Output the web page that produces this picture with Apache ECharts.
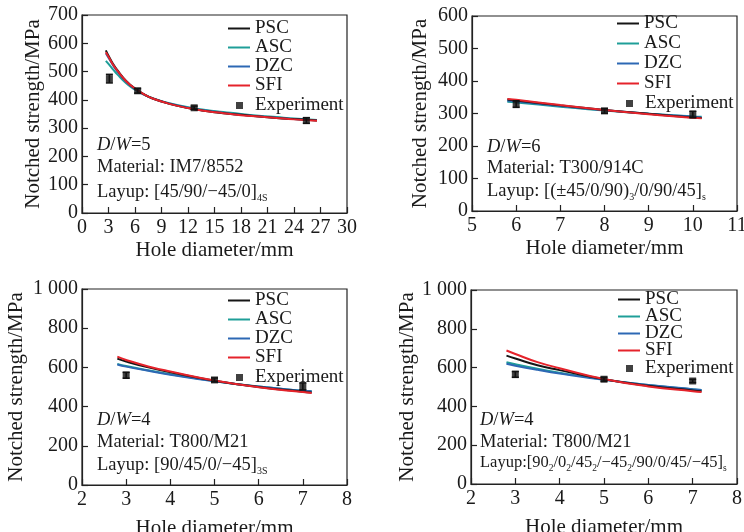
<!DOCTYPE html>
<html><head><meta charset="utf-8">
<script src="https://cdn.jsdelivr.net/npm/echarts@6/dist/echarts.min.js"></script>
<style>html,body{margin:0;padding:0;background:#fff}#c{width:744px;height:532px}</style>
</head><body><div id="c"></div>
<script>
// ---------- DATA ----------
const seriesNames = ['PSC','ASC','DZC','SFI'];
// Panel 1: IM7/8552
const x1 = [2.7, 3, 3.5, 4, 5, 6, 7, 8, 10, 12, 14, 16, 18, 20, 22, 24, 26.6];
const psc1 = [575, 556, 528, 505, 467, 440, 420, 405, 385, 371, 361, 353, 347, 341, 336, 332, 327];
const asc1 = [538, 527, 508, 490, 459, 436, 419, 406, 387, 374, 364, 357, 350, 344, 339, 334, 329];
const dzc1 = [565, 549, 523, 501, 464, 438, 419, 405, 386, 372, 362, 354, 347, 342, 337, 332, 328];
const sfi1 = [568, 552, 525, 503, 466, 440, 420, 405, 385, 371, 361, 353, 346, 341, 336, 331, 326];
const expX1 = [3.1, 6.3, 12.7, 25.4];
const expY1 = [475, 432, 372, 327];
const expE1 = [15, 8, 6, 10];
// Panel 2: T300/914C
const x2 = [5.8, 6, 7, 8, 9, 10, 10.2];
const psc2 = [343, 340, 325, 311, 299, 288, 286];
const asc2 = [336, 334, 321, 309, 299, 291, 290];
const dzc2 = [339, 337, 323, 310, 299, 290, 288];
const sfi2 = [345, 342, 326, 311, 298, 287, 285];
const expX2 = [6, 8, 10];
const expY2 = [329, 308, 297];
const expE2 = [10, 7, 10];
// Panel 3: T800/M21 [90/45/0/-45]3S
const x3 = [2.8, 3, 3.5, 4, 5, 6, 7, 7.2];
const psc3 = [645, 630, 600, 575, 532, 500, 476, 472];
const asc3 = [618, 607, 585, 565, 530, 502, 481, 478];
const dzc3 = [615, 604, 583, 563, 529, 502, 481, 478];
const sfi3 = [655, 638, 605, 579, 533, 499, 474, 470];
const expX3 = [3, 5, 7];
const expY3 = [560, 536, 503];
const expE3 = [15, 10, 18];
// Panel 4: T800/M21 dispersed
const x4 = [2.8, 3, 3.5, 4, 5, 6, 7, 7.2];
const psc4 = [662, 647, 612, 587, 540, 506, 482, 478];
const asc4 = [628, 617, 594, 574, 538, 510, 488, 484];
const dzc4 = [620, 610, 589, 570, 537, 510, 489, 485];
const sfi4 = [688, 670, 628, 597, 541, 503, 478, 474];
const expX4 = [3, 5, 7];
const expY4 = [565, 540, 531];
const expE4 = [15, 10, 8];
// axis ranges / ticks
const xAxes = [{min:0,max:30,interval:3},{min:5,max:11,interval:1},{min:2,max:8,interval:1},{min:2,max:8,interval:1}];
const yAxes = [{min:0,max:700,interval:100},{min:0,max:600,interval:100},{min:0,max:1000,interval:200},{min:0,max:1000,interval:200}];
const xTitle = 'Hole diameter/mm';
const yTitle = 'Notched strength/MPa';

// ---------- STYLE / LAYOUT ----------
const FONT = 'Liberation Serif';
const colors = {PSC:'#151515', ASC:'#1f9e98', DZC:'#2d68b4', SFI:'#e5232b'};
const grids = [
  {left:82, top:15, width:265, height:198},
  {left:472, top:16, width:265, height:195},
  {left:82, top:289, width:265, height:196},
  {left:471, top:290, width:266, height:194}
];
const panels = [
  {x:x1, PSC:psc1, ASC:asc1, DZC:dzc1, SFI:sfi1, ex:expX1, ey:expY1, ee:expE1},
  {x:x2, PSC:psc2, ASC:asc2, DZC:dzc2, SFI:sfi2, ex:expX2, ey:expY2, ee:expE2},
  {x:x3, PSC:psc3, ASC:asc3, DZC:dzc3, SFI:sfi3, ex:expX3, ey:expY3, ee:expE3},
  {x:x4, PSC:psc4, ASC:asc4, DZC:dzc4, SFI:sfi4, ex:expX4, ey:expY4, ee:expE4}
];
const legendPos = [
  {left:228, top:19, gap:0, exLeft:236, exTop:96},
  {left:617, top:14, gap:1, exLeft:626, exTop:94},
  {left:228, top:291, gap:0, exLeft:236, exTop:368},
  {left:618, top:290, gap:-2, exLeft:626, exTop:359}
];
const yNameGap = [37, 41, 55, 53];
const xNameGap = [27, 27, 33, 33];
const fmt = v => String(v).replace(/\B(?=(\d{3})+(?!\d))/g, ' ');

const option = {
  animation:false,
  backgroundColor:'#fff',
  grid: grids.map(g => Object.assign({show:true, borderColor:'#222', borderWidth:1.2, backgroundColor:'transparent', containLabel:false, outerBoundsMode:'none'}, g)),
  xAxis: xAxes.map((a,i) => ({
    type:'value', gridIndex:i, min:a.min, max:a.max, interval:a.interval,
    name:xTitle, nameLocation:'middle', nameGap:xNameGap[i],
    nameTextStyle:{fontFamily:FONT, fontSize:21, color:'#1a1a1a'},
    axisLine:{onZero:false, lineStyle:{color:'#222', width:1.2}},
    axisTick:{inside:true, length:6, lineStyle:{color:'#222', width:1.2}},
    axisLabel:{fontFamily:FONT, fontSize:20, color:'#1a1a1a', margin:5},
    splitLine:{show:false}
  })),
  yAxis: yAxes.map((a,i) => ({
    type:'value', gridIndex:i, min:a.min, max:a.max, interval:a.interval,
    name:yTitle, nameLocation:'middle', nameGap:yNameGap[i],
    nameTextStyle:{fontFamily:FONT, fontSize:21, color:'#1a1a1a'},
    axisLine:{lineStyle:{color:'#222', width:1.2}},
    axisTick:{inside:true, length:6, lineStyle:{color:'#222', width:1.2}},
    axisLabel:{fontFamily:FONT, fontSize:20, color:'#1a1a1a', margin:4, formatter:fmt},
    splitLine:{show:false}
  })),
  legend: [],
  series: [],
  graphic: []
};

const drawOrder = ['ASC','DZC','PSC','SFI'];
panels.forEach((p,i) => {
  drawOrder.forEach(n => {
    option.series.push({
      name:n, type:'line', xAxisIndex:i, yAxisIndex:i, smooth:true, symbol:'none',
      data: p.x.map((xv,k) => [xv, p[n][k]]),
      lineStyle:{color:colors[n], width:2}, itemStyle:{color:colors[n]}, z:3
    });
  });
  option.series.push({
    name:'Experiment', type:'scatter', xAxisIndex:i, yAxisIndex:i, symbol:'rect', symbolSize:7,
    itemStyle:{color:'#111'}, z:5,
    data: p.ex.map((xv,k) => [xv, p.ey[k]])
  });
  option.series.push({
    name:'err'+i, type:'custom', xAxisIndex:i, yAxisIndex:i, z:4,
    data: p.ex.map((xv,k) => [xv, p.ey[k], p.ee[k]]),
    renderItem: (params, api) => {
      const xv = api.value(0), yv = api.value(1), e = api.value(2);
      const t = api.coord([xv, yv + e]), b = api.coord([xv, yv - e]);
      const w = 3.5, st = {stroke:'#111', lineWidth:1.6};
      return {type:'group', children:[
        {type:'line', shape:{x1:t[0], y1:t[1], x2:b[0], y2:b[1]}, style:st},
        {type:'line', shape:{x1:t[0]-w, y1:t[1], x2:t[0]+w, y2:t[1]}, style:st},
        {type:'line', shape:{x1:b[0]-w, y1:b[1], x2:b[0]+w, y2:b[1]}, style:st}
      ]};
    }
  });
  const L = legendPos[i];
  option.legend.push({
    orient:'vertical', left:L.left, top:L.top, padding:0, icon:'rect', itemWidth:22, itemHeight:2, itemGap:L.gap,
    selectedMode:false, data:seriesNames,
    textStyle:{fontFamily:FONT, fontSize:19, color:'#1a1a1a'}
  });
  option.legend.push({
    orient:'vertical', left:L.exLeft, top:L.exTop, padding:0, icon:'rect', itemWidth:7, itemHeight:7, itemGap:0,
    selectedMode:false, data:['Experiment'],
    textStyle:{fontFamily:FONT, fontSize:19, color:'#1a1a1a', padding:[0,0,0,7]}
  });
});

// ---------- ANNOTATIONS ----------
const rich = {
  n:{fontFamily:FONT, fontSize:18.5, color:'#1a1a1a', lineHeight:22},
  i:{fontFamily:FONT, fontSize:18.5, fontStyle:'italic', color:'#1a1a1a', lineHeight:22},
  s:{fontFamily:FONT, fontSize:10, color:'#1a1a1a', lineHeight:22, verticalAlign:'bottom'},
  m:{fontFamily:FONT, fontSize:16.5, color:'#1a1a1a', lineHeight:22},
  ms:{fontFamily:FONT, fontSize:9.5, color:'#1a1a1a', lineHeight:22, verticalAlign:'bottom'}
};
const notes = [
  {x:97, ys:[143,165,190], lines:['{i|D}{n|/}{i|W}{n|=5}', '{n|Material: IM7/8552}', '{n|Layup: [45/90/−45/0]}{s|4S}']},
  {x:487, ys:[145,166,189], lines:['{i|D}{n|/}{i|W}{n|=6}', '{n|Material: T300/914C}', '{n|Layup: [(±45/0/90)}{s|3}{n|/0/90/45]}{s|s}']},
  {x:97, ys:[418,440,463], lines:['{i|D}{n|/}{i|W}{n|=4}', '{n|Material: T800/M21}', '{n|Layup: [90/45/0/−45]}{s|3S}']},
  {x:480, ys:[418,440,461], lines:['{i|D}{n|/}{i|W}{n|=4}', '{n|Material: T800/M21}', '{m|Layup:[90}{ms|2}{m|/0}{ms|2}{m|/45}{ms|2}{m|/−45}{ms|2}{m|/90/0/45/−45]}{ms|s}']}
];
notes.forEach(nt => {
  nt.lines.forEach((t,k) => {
    option.graphic.push({
      type:'text', left:nt.x, top:nt.ys[k]-7, z:10,
      style:{text:t, rich:rich, fill:'#1a1a1a'}
    });
  });
});

const chart = echarts.init(document.getElementById('c'), null, {renderer:'canvas'});
chart.setOption(option);
</script></body></html>
